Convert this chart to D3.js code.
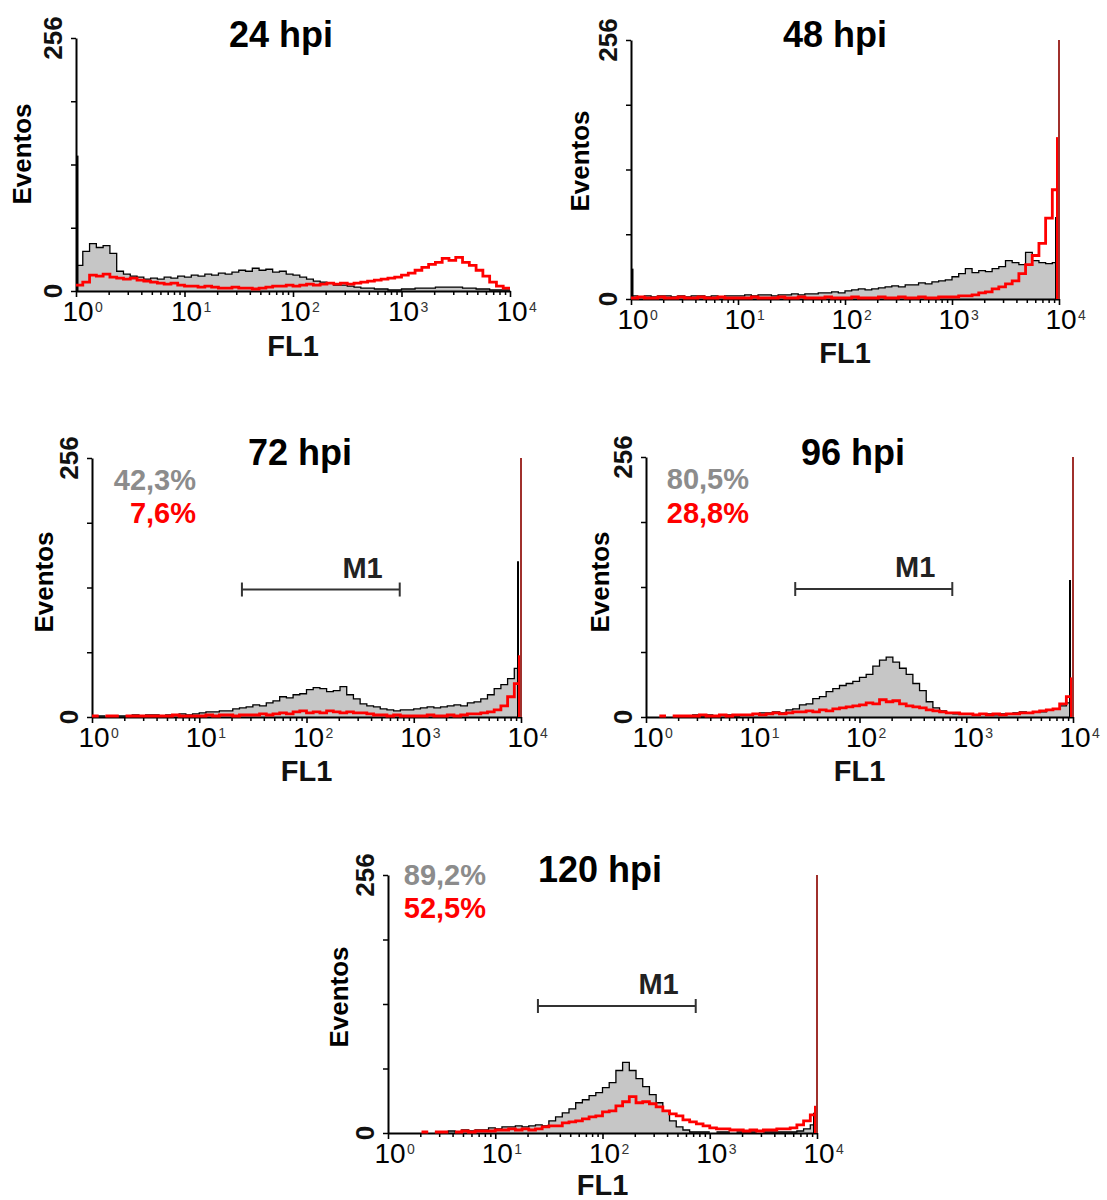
<!DOCTYPE html>
<html><head><meta charset="utf-8">
<script src="https://cdn.jsdelivr.net/npm/d3@7"></script>
<style>
body{margin:0;background:#fff}
svg{display:block}
text{font-family:"Liberation Sans",Arial,Helvetica,sans-serif}
</style>
</head><body>
<svg id="chart" width="1107" height="1200"></svg>
<script>
// ---------------- DATA ----------------
const titles = ["24 hpi", "48 hpi", "72 hpi", "96 hpi", "120 hpi"];
const yTickValues = [0, 64, 128, 192, 256];
const yTickLabels = ["0", "256"];
const decadeExponents = [0, 1, 2, 3, 4];
const xLabel = "FL1";
const yLabel = "Eventos";

// 64 log-spaced bins from 10^0 to 10^4 (16 per decade), counts 0-256
const gray24 = [26,40,48,44,46,38,20,17,15,14,12,13,12,14,13,15,
                14,16,15,17,16,18,17,19,21,20,23,21,22,19,20,17,
                16,14,12,10,9,8,6,6,5,4,3,3,2,2,1,1,
                2,2,3,3,3,4,4,4,4,3,3,2,2,1,1,1];
const red24  = [6,9,16,15,17,14,13,12,13,11,10,9,8,7,8,6,
                5,5,4,5,4,3,3,4,3,3,2,3,4,5,5,6,
                5,6,7,6,7,8,7,8,7,8,9,10,11,12,13,14,
                16,18,21,24,27,29,33,31,34,29,26,21,15,9,5,3];
const gray48 = [3,2,3,2,3,3,2,3,2,3,3,2,3,2,3,3,
                3,4,3,4,4,3,4,4,5,4,5,5,6,6,7,6,
                8,9,10,9,10,11,12,13,12,14,14,16,15,17,18,19,
                22,25,30,26,28,27,30,32,38,36,34,46,38,36,35,36];
const red48  = [1,2,1,1,2,1,1,2,1,1,2,1,1,2,1,1,
                1,1,2,1,1,1,2,1,1,2,1,1,1,2,1,1,
                1,2,1,1,1,2,1,1,2,1,1,2,1,1,2,2,
                2,3,3,4,6,7,10,12,15,18,25,34,43,55,80,108];
const gray72 = [1,1,0,1,1,1,2,1,2,2,1,2,2,3,2,3,
                4,5,5,6,6,8,9,10,12,11,14,16,20,19,22,23,
                27,29,28,25,26,30,22,18,13,11,10,8,7,6,7,7,
                8,9,10,9,10,11,12,11,14,15,18,22,28,32,38,48];
const red72  = [1,0,1,1,0,1,1,1,1,1,1,1,2,1,1,1,
                1,2,1,2,2,1,2,2,2,3,2,3,4,3,5,6,
                4,5,4,6,5,4,5,4,4,3,2,2,1,2,1,1,
                1,1,2,1,1,2,1,2,3,3,4,5,7,11,20,33];
const gray96 = [0,0,0,0,0,1,1,2,1,2,1,2,2,1,2,2,
                3,4,4,5,4,7,8,12,13,18,20,25,28,31,33,35,
                39,42,50,56,59,54,48,42,33,26,15,9,6,4,3,3,
                3,2,3,3,2,3,3,4,5,4,5,5,7,8,11,14];
const red96  = [0,0,1,0,1,1,1,1,2,1,1,2,1,2,2,2,
                3,2,3,4,3,4,5,5,6,5,7,6,8,9,10,11,
                12,14,13,17,15,16,13,11,10,9,7,6,5,4,4,3,
                3,2,3,2,3,2,3,3,4,4,5,6,7,8,13,20];
const gray120 = [0,0,0,0,0,0,0,1,1,2,1,3,2,3,3,5,
                 4,6,6,7,6,7,8,7,12,16,20,24,30,33,37,40,
                 45,50,62,70,62,54,46,38,30,22,12,6,3,1,1,1,
                 0,1,1,0,1,1,1,0,1,1,1,1,1,2,4,8];
const red120  = [0,0,0,0,0,1,0,1,1,0,1,2,1,2,2,2,
                 3,3,4,3,4,3,4,6,7,7,10,11,12,14,16,17,
                 21,22,27,31,36,30,31,29,26,22,19,17,13,11,9,7,
                 5,4,4,3,3,2,3,2,3,3,4,4,5,8,12,18];

// channel spikes (first / last channel counts)
const firstChannelBlack = [137, 30, 0, 0, 0];
const lastChannelBlack  = [0, 81, 154, 135, 20];
const lastChannelRed    = [0, 160, 61, 39, 27];
const offScaleLast      = [0, 256, 256, 256, 256];

// M1 gate and percentages
const pctGray = [null, null, "42,3%", "80,5%", "89,2%"];
const pctRed  = [null, null, "7,6%", "28,8%", "52,5%"];
const gateLabel = "M1";
const gateRange = [25, 740];
const gateLevel = 126;

const grays = [gray24, gray48, gray72, gray96, gray120];
const reds  = [red24, red48, red72, red96, red120];

// ---------------- LAYOUT ----------------
const layout = [
  {x0:76,  x1:510,  yTop:38,  yZero:291,  tx:281, ty:47,  ex:22,  ey:154, px:0,   py1:0,   py2:0,   fy:356},
  {x0:631, x1:1059, yTop:40,  yZero:299,  tx:835, ty:47,  ex:580, ey:161, px:0,   py1:0,   py2:0,   fy:363},
  {x0:92,  x1:521,  yTop:458, yZero:717,  tx:300, ty:465, ex:44,  ey:582, px:196, py1:490, py2:523, fy:781},
  {x0:646, x1:1073, yTop:457, yZero:717,  tx:853, ty:465, ex:600, ey:582, px:749, py1:489, py2:523, fy:781},
  {x0:388, x1:817,  yTop:875, yZero:1133, tx:600, ty:882, ex:339, ey:997, px:486, py1:885, py2:918, fy:1195}
];

const svg = d3.select("#chart");
const minorTicks = [];
[1,10,100,1000].forEach(d => { for (let m = 2; m <= 9; m++) minorTicks.push(d*m); });
const majorTicks = decadeExponents.map(k => Math.pow(10, k));

layout.forEach((L, p) => {
  const g = svg.append("g");
  const x = d3.scaleLog().domain([1, 1e4]).range([L.x0, L.x1]);
  const y = d3.scaleLinear().domain([0, 256]).range([L.yZero, L.yTop]);
  const nb = grays[p].length;
  const edge = i => Math.pow(10, 4 * i / nb);
  const pts = arr => arr.flatMap((v, i) => [{x: edge(i), v}, {x: edge(i + 1), v}]);

  const area = d3.area().x(d => x(d.x)).y0(y(0)).y1(d => y(d.v));
  const line = d3.line().defined(d => d.v > 0).x(d => x(d.x)).y(d => y(d.v));

  // gray fill
  g.append("path").attr("d", area(pts(grays[p]))).attr("fill", "#c6c6c6");

  // axes
  const yAxis = d3.axisLeft(y).tickValues(yTickValues).tickSize(5).tickSizeOuter(0).tickFormat("");
  const ya = g.append("g").attr("transform", `translate(${L.x0},0)`).call(yAxis);
  ya.select(".domain").attr("stroke", "#000").attr("stroke-width", 2);
  ya.selectAll(".tick line").attr("stroke", "#000").attr("stroke-width", 1.5);

  const xMinor = d3.axisBottom(x).tickValues(minorTicks).tickSize(4).tickSizeOuter(0).tickFormat("");
  const xm = g.append("g").attr("transform", `translate(0,${L.yZero})`).call(xMinor);
  xm.select(".domain").attr("stroke", "#000").attr("stroke-width", 2);
  xm.selectAll(".tick line").attr("stroke", "#000").attr("stroke-width", 1.5);
  const xMajor = d3.axisBottom(x).tickValues(majorTicks).tickSize(6).tickSizeOuter(0).tickFormat("");
  const xM = g.append("g").attr("transform", `translate(0,${L.yZero})`).call(xMajor);
  xM.select(".domain").remove();
  xM.selectAll(".tick line").attr("stroke", "#000").attr("stroke-width", 1.6);

  // x tick labels 10^k
  decadeExponents.forEach(k => {
    const tx = x(Math.pow(10, k));
    g.append("text").attr("x", tx + 2).attr("y", L.yZero + 30)
      .attr("text-anchor", "middle").attr("font-size", 28).attr("fill", "#000").text("10");
    g.append("text").attr("x", tx + 19).attr("y", L.yZero + 21)
      .attr("font-size", 14).attr("fill", "#333").text(String(k));
  });

  // y tick labels (rotated)
  [[0, yTickLabels[0]], [256, yTickLabels[1]]].forEach(([v, t]) => {
    g.append("text").attr("transform", `translate(${L.x0 - 14},${y(v)}) rotate(-90)`)
      .attr("text-anchor", "middle").attr("font-size", 26).attr("font-weight", "bold")
      .attr("fill", "#111").text(t);
  });

  // black outline
  g.append("path").attr("d", line(pts(grays[p]))).attr("fill", "none")
    .attr("stroke", "#000").attr("stroke-width", 1.3);
  // spikes black
  if (firstChannelBlack[p] > 0) {
    g.append("line").attr("x1", x(1) + 1.5).attr("x2", x(1) + 1.5)
      .attr("y1", y(0)).attr("y2", y(firstChannelBlack[p])).attr("stroke", "#000").attr("stroke-width", 2);
  }
  if (lastChannelBlack[p] > 0) {
    g.append("line").attr("x1", x(1e4) - 3).attr("x2", x(1e4) - 3)
      .attr("y1", y(0)).attr("y2", y(lastChannelBlack[p])).attr("stroke", "#000").attr("stroke-width", 2);
  }
  // red line
  g.append("path").attr("d", line(pts(reds[p]))).attr("fill", "none")
    .attr("stroke", "#ff0000").attr("stroke-width", 2.8).attr("stroke-linejoin", "miter");
  if (lastChannelRed[p] > 0) {
    g.append("line").attr("x1", x(1e4) - 1.5).attr("x2", x(1e4) - 1.5)
      .attr("y1", y(0)).attr("y2", y(lastChannelRed[p])).attr("stroke", "#ff0000").attr("stroke-width", 3);
  }
  if (offScaleLast[p] > 0) {
    g.append("line").attr("x1", x(1e4)).attr("x2", x(1e4))
      .attr("y1", y(0)).attr("y2", y(offScaleLast[p])).attr("stroke", "#a0302c").attr("stroke-width", 2);
  }

  // axis labels
  g.append("text").attr("x", (L.x0 + L.x1) / 2).attr("y", L.fy)
    .attr("text-anchor", "middle").attr("font-size", 29).attr("font-weight", "bold")
    .attr("fill", "#111").text(xLabel);
  g.append("text").attr("transform", `translate(${L.ex + 9},${L.ey}) rotate(-90)`)
    .attr("text-anchor", "middle").attr("font-size", 26).attr("font-weight", "bold")
    .attr("fill", "#000").text(yLabel);

  // title
  g.append("text").attr("x", L.tx).attr("y", L.ty).attr("text-anchor", "middle")
    .attr("font-size", 36).attr("font-weight", "bold").attr("fill", "#000").text(titles[p]);

  // percentages & gate
  if (pctGray[p]) {
    g.append("text").attr("x", L.px).attr("y", L.py1).attr("text-anchor", "end")
      .attr("font-size", 29).attr("font-weight", "bold").attr("fill", "#8c8c8c").text(pctGray[p]);
    g.append("text").attr("x", L.px).attr("y", L.py2).attr("text-anchor", "end")
      .attr("font-size", 29).attr("font-weight", "bold").attr("fill", "#ff0000").text(pctRed[p]);

    const gx0 = x(gateRange[0]), gx1 = x(gateRange[1]), gy = y(gateLevel);
    g.append("line").attr("x1", gx0).attr("x2", gx1).attr("y1", gy).attr("y2", gy)
      .attr("stroke", "#333").attr("stroke-width", 2);
    [gx0, gx1].forEach(cx => g.append("line").attr("x1", cx).attr("x2", cx)
      .attr("y1", gy - 7).attr("y2", gy + 7).attr("stroke", "#333").attr("stroke-width", 2));
    g.append("text").attr("x", gx1 - 17).attr("y", gy - 12).attr("text-anchor", "end")
      .attr("font-size", 29).attr("font-weight", "bold").attr("fill", "#222").text(gateLabel);
  }
});
</script>
</body></html>
